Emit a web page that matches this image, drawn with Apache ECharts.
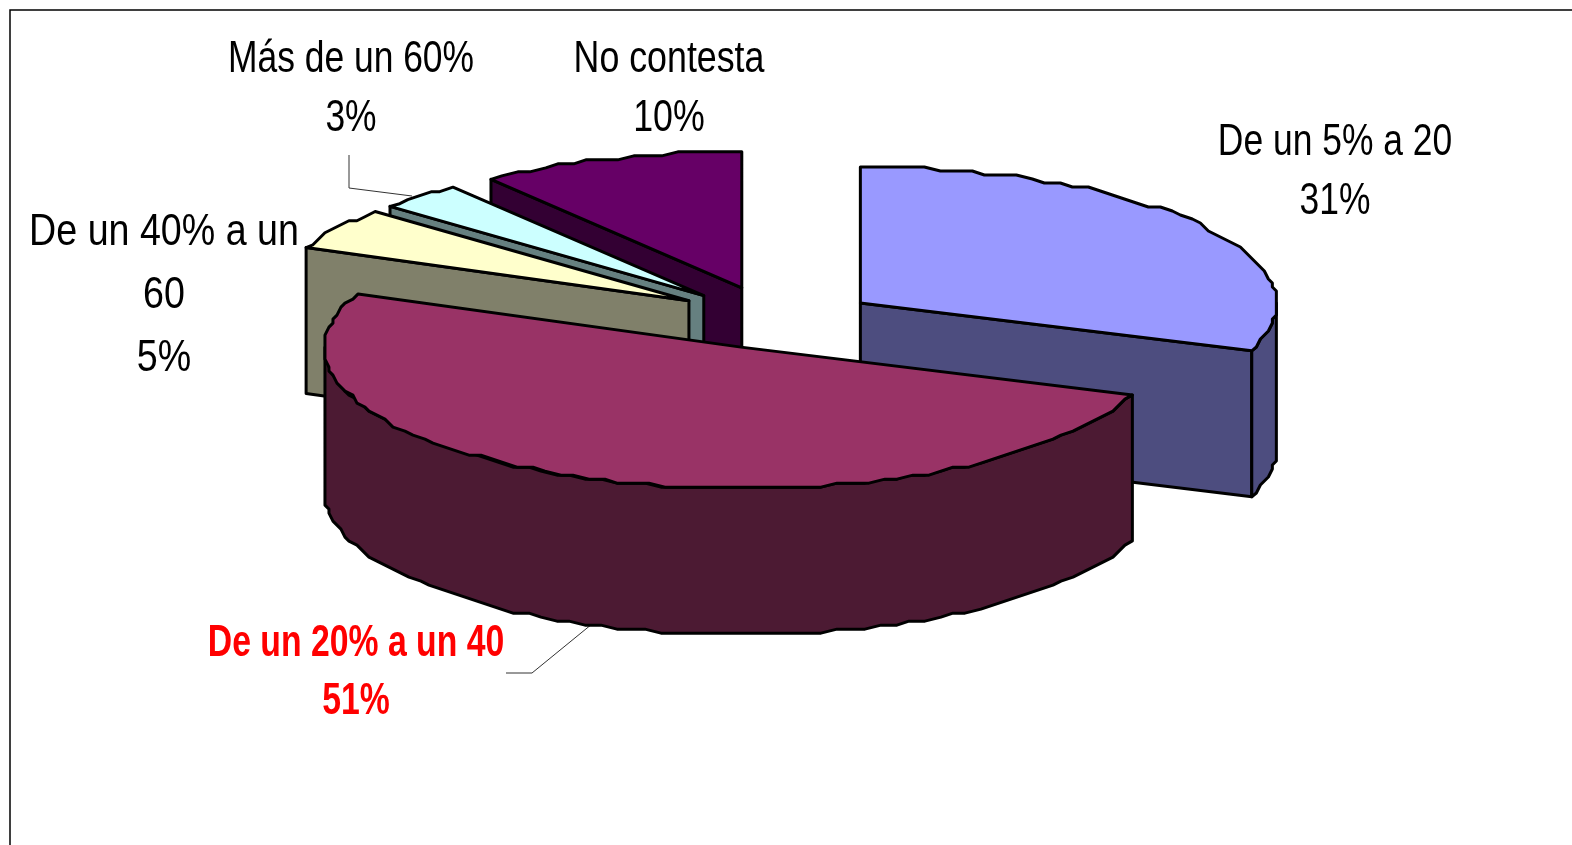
<!DOCTYPE html>
<html>
<head>
<meta charset="utf-8">
<style>html,body{margin:0;padding:0;background:#fff}#c{width:1572px;height:845px}</style>
<script src="https://cdn.jsdelivr.net/npm/echarts@6/dist/echarts.min.js"></script>
</head>
<body>
<div id="c"></div>
<script>
// Data (clockwise from 12 o'clock)
const categories = ['De un 5% a 20', 'De un 20% a un 40', 'De un 40% a un\n60', 'Más de un 60%', 'No contesta'];
const shares = [30.5, 50.9, 5.0, 3.3, 10.3];

// Styling
const topColors = ['#9999ff', '#993366', '#ffffcc', '#ccffff', '#660066'];
const sideColors = ['#4d4d7f', '#4c1a33', '#80806a', '#668080', '#330033'];
const labelColors = ['#000', '#ff0000', '#000', '#000', '#000'];
const labelWeights = ['normal', 'bold', 'normal', 'normal', 'normal'];

// Layout
const CX = 772, CY = 322, RX = 416, RY_BACK = 136, RY_FRONT = 141, DEPTH = 146, SNAP = 4;
const explodeX = [108, 85, 98, 100, 95];
const explodeY = [33, 27, 40, 36, 36];
const stackOrder = [40, 50, 30, 20, 10];
const labelPos = [[1335, 172], [356, 673], [164, 296], [351, 89], [669, 89]];
const labelLine = [59, 58, 63, 59, 59];
const labelScale = [0.787, 0.75, 0.836, 0.787, 0.795];
const leaders = [null, [[506, 673], [532, 673], [592, 624]], null, [[349, 155], [349, 188], [412, 196]], null];

const rad = d => d * Math.PI / 180;
const starts = [];
shares.reduce((sum, v, i) => { starts[i] = sum / 100 * 360; return sum + v; }, 0);

function rimOffset(t, snap) {
  const c = Math.cos(rad(t));
  let x = RX * Math.sin(rad(t));
  let y = -(c > 0 ? RY_BACK : RY_FRONT) * c;
  if (snap) { x = Math.round(x / SNAP) * SNAP; y = Math.round(y / SNAP) * SNAP; }
  return [x, y];
}
function rimPoints(t0, t1) {
  const n = Math.max(2, Math.ceil((t1 - t0) / 2.2));
  const pts = [];
  for (let i = 0; i <= n; i++) {
    const t = t0 + (t1 - t0) * i / n;
    pts.push(rimOffset(t, i > 0 && i < n));
  }
  return pts;
}

function renderItem(params, api) {
  const i = params.dataIndex;
  const share = api.value(0);
  const t0 = starts[i], t1 = t0 + share / 100 * 360, mid = (t0 + t1) / 2;
  const ax = CX + explodeX[i] * Math.sin(rad(mid));
  const ay = CY - explodeY[i] * Math.cos(rad(mid));
  const at = (p, dy) => [ax + p[0], ay + p[1] + (dy || 0)];
  const z = stackOrder[i];
  const stroke = { stroke: '#000', lineWidth: 3, lineJoin: 'round' };
  const kids = [];

  const face = (t) => {
    const e = rimOffset(t, false);
    kids.push({ type: 'polygon', z2: z,
      shape: { points: [at([0, 0]), at(e), at(e, DEPTH), at([0, 0], DEPTH)] },
      style: Object.assign({ fill: sideColors[i] }, stroke) });
  };
  if (Math.sin(rad(t0)) < -0.01) face(t0);
  if (Math.sin(rad(t1)) > 0.01) face(t1);

  const w0 = Math.max(t0, 90), w1 = Math.min(t1, 270);
  if (w1 > w0) {
    const rim = rimPoints(w0, w1);
    kids.push({ type: 'polygon', z2: z + 1,
      shape: { points: rim.map(p => at(p)).concat(rim.slice().reverse().map(p => at(p, DEPTH))) },
      style: Object.assign({ fill: sideColors[i] }, stroke) });
  }
  kids.push({ type: 'polygon', z2: z + 2,
    shape: { points: [at([0, 0])].concat(rimPoints(t0, t1).map(p => at(p))) },
    style: Object.assign({ fill: topColors[i] }, stroke) });

  if (leaders[i]) {
    kids.push({ type: 'polyline', z2: 1, shape: { points: leaders[i] },
      style: { fill: 'none', stroke: '#333', lineWidth: 1 } });
  }
  kids.push({ type: 'text', z2: 100, x: labelPos[i][0], y: labelPos[i][1], scaleX: labelScale[i],
    style: {
      text: api.value(1) + '\n' + Math.round(share) + '%',
      fontFamily: '"Liberation Sans", Arial, sans-serif',
      fontSize: 45, fontWeight: labelWeights[i], fill: labelColors[i],
      align: 'center', verticalAlign: 'middle', lineHeight: labelLine[i]
    } });
  return { type: 'group', children: kids };
}

const chart = echarts.init(document.getElementById('c'), null, { renderer: 'canvas' });
chart.setOption({
  animation: false,
  backgroundColor: '#fff',
  graphic: [{ type: 'polyline', silent: true, shape: { points: [[10, 845], [10, 10], [1572, 10]] },
    style: { fill: 'none', stroke: '#000', lineWidth: 1.5 } }],
  series: [{
    type: 'custom',
    coordinateSystem: 'none',
    renderItem: renderItem,
    data: shares.map((v, i) => [v, categories[i]]),
    dimensions: ['share', { name: 'category', type: 'ordinal' }],
    encode: { value: 0, itemName: 1 }
  }]
});
</script>
</body>
</html>
